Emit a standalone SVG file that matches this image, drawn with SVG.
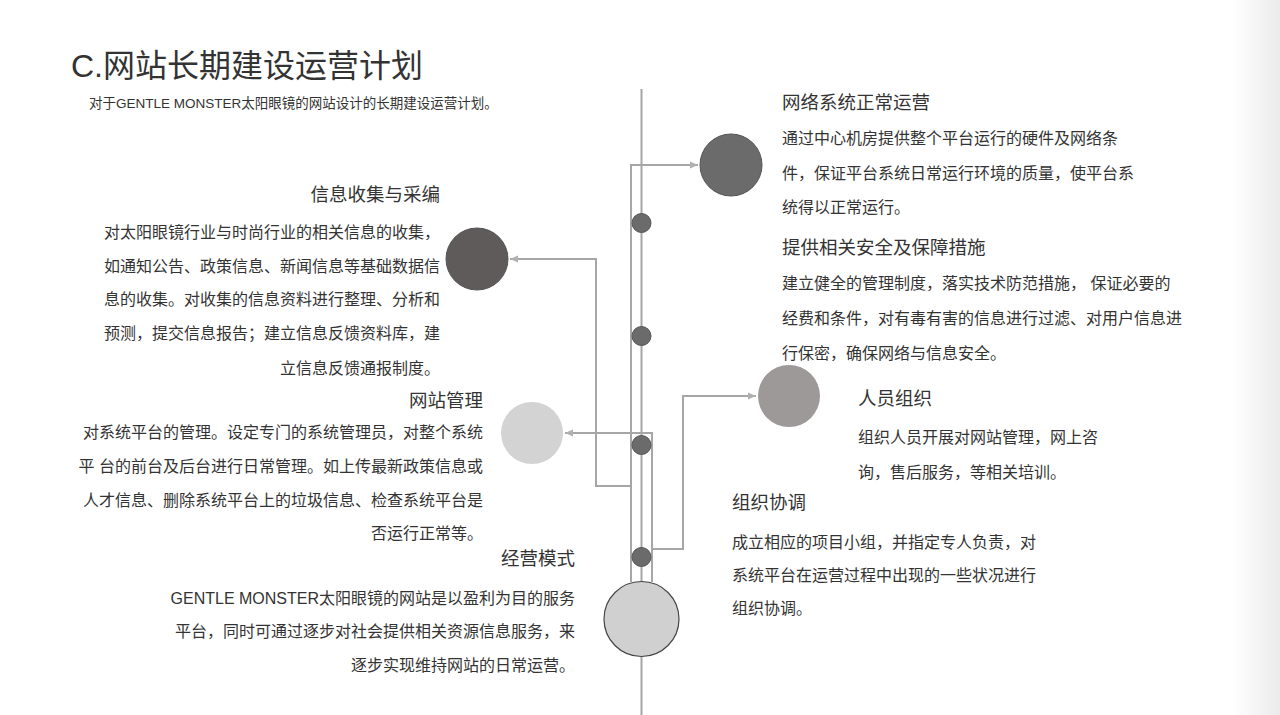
<svg xmlns="http://www.w3.org/2000/svg" width="1280" height="715" viewBox="0 0 1280 715">
<defs>
<linearGradient id="edge" x1="0" y1="0" x2="1" y2="0">
<stop offset="0" stop-color="#ffffff"/>
<stop offset="1" stop-color="#ebebeb"/>
</linearGradient>
<marker id="arr" markerWidth="10" markerHeight="10" refX="8" refY="4" orient="auto" markerUnits="userSpaceOnUse">
<path d="M0,0.5 L8,4 L0,7.5 Z" fill="#b0b0b0"/>
</marker>
<style>
text{font-family:"Liberation Sans","Noto Sans CJK SC",sans-serif;fill:#333333;}
.title{font-size:32px;}
.sub{font-size:13.5px;}
.h{font-size:18.5px;}
.b{font-size:16px;}
.r{text-anchor:end;}
.ln{fill:none;stroke:#a6a6a6;stroke-width:2;}
.dot{fill:#6b6b6b;stroke:#555555;stroke-width:1;}
</style>
</defs>
<rect width="1280" height="715" fill="#ffffff"/>
<rect x="1232" y="0" width="48" height="715" fill="url(#edge)"/>

<g id="header">
<text class="title" x="71" y="77">C.网站长期建设运营计划</text>
<text class="sub" x="89" y="108">对于GENTLE MONSTER太阳眼镜的网站设计的长期建设运营计划。</text>
</g>

<g id="connectors">
<line class="ln" x1="641.5" y1="89" x2="641.5" y2="715"/>
<path class="ln" d="M631,582 V165 H698" marker-end="url(#arr)"/>
<path class="ln" d="M631,486 H596 V259 H510" marker-end="url(#arr)"/>
<path class="ln" d="M652,582 V433 H565" marker-end="url(#arr)"/>
<path class="ln" d="M652,549 H683 V396 H756" marker-end="url(#arr)"/>
</g>

<g id="dots">
<circle class="dot" cx="641.5" cy="223" r="9.5"/>
<circle class="dot" cx="641.5" cy="336" r="9.5"/>
<circle class="dot" cx="641.5" cy="445" r="9.5"/>
<circle class="dot" cx="641.5" cy="557" r="9.5"/>
</g>

<g id="hub">
<circle cx="641.5" cy="619" r="37.5" fill="#d0d0d0" stroke="#444444" stroke-width="1.2"/>
</g>

<g id="node-network">
<circle cx="731" cy="165" r="31" fill="#6b6b6b" stroke="#555555" stroke-width="1"/>
<text class="h" x="782" y="109">网络系统正常运营</text>
<text class="b" x="782" y="144">通过中心机房提供整个平台运行的硬件及网络条</text>
<text class="b" x="782" y="179">件，保证平台系统日常运行环境的质量，使平台系</text>
<text class="b" x="782" y="213">统得以正常运行。</text>
</g>

<g id="node-security">
<text class="h" x="782" y="254">提供相关安全及保障措施</text>
<text class="b" x="782" y="289">建立健全的管理制度，落实技术防范措施， 保证必要的</text>
<text class="b" x="782" y="324">经费和条件，对有毒有害的信息进行过滤、对用户信息进</text>
<text class="b" x="782" y="359">行保密，确保网络与信息安全。</text>
</g>

<g id="node-info">
<circle cx="477" cy="259" r="31" fill="#5f5b5b" stroke="#555555" stroke-width="1"/>
<text class="h r" x="440" y="201">信息收集与采编</text>
<text class="b r" x="440" y="238">对太阳眼镜行业与时尚行业的相关信息的收集，</text>
<text class="b r" x="440" y="272">如通知公告、政策信息、新闻信息等基础数据信</text>
<text class="b r" x="440" y="305">息的收集。对收集的信息资料进行整理、分析和</text>
<text class="b r" x="440" y="339">预测，提交信息报告；建立信息反馈资料库，建</text>
<text class="b r" x="440" y="374">立信息反馈通报制度。</text>
</g>

<g id="node-manage">
<circle cx="532" cy="433" r="31" fill="#d3d3d3"/>
<text class="h r" x="483" y="407">网站管理</text>
<text class="b r" x="483" y="438">对系统平台的管理。设定专门的系统管理员，对整个系统</text>
<text class="b r" x="483" y="472">平 台的前台及后台进行日常管理。如上传最新政策信息或</text>
<text class="b r" x="483" y="506">人才信息、删除系统平台上的垃圾信息、检查系统平台是</text>
<text class="b r" x="483" y="539">否运行正常等。</text>
</g>

<g id="node-people">
<circle cx="789" cy="396" r="31" fill="#9d9999"/>
<text class="h" x="858" y="405">人员组织</text>
<text class="b" x="858" y="443">组织人员开展对网站管理，网上咨</text>
<text class="b" x="858" y="478">询，售后服务，等相关培训。</text>
</g>

<g id="node-coord">
<text class="h" x="732" y="509">组织协调</text>
<text class="b" x="732" y="548">成立相应的项目小组，并指定专人负责，对</text>
<text class="b" x="732" y="581">系统平台在运营过程中出现的一些状况进行</text>
<text class="b" x="732" y="614">组织协调。</text>
</g>

<g id="node-business">
<text class="h r" x="575" y="565">经营模式</text>
<text class="b r" x="575" y="604">GENTLE MONSTER太阳眼镜的网站是以盈利为目的服务</text>
<text class="b r" x="575" y="637">平台，同时可通过逐步对社会提供相关资源信息服务，来</text>
<text class="b r" x="575" y="671">逐步实现维持网站的日常运营。</text>
</g>
</svg>
